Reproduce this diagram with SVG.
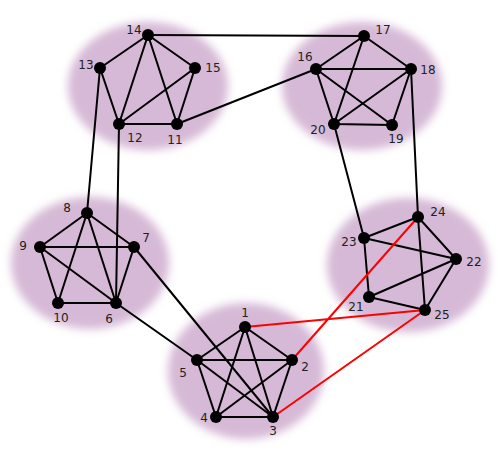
<svg xmlns="http://www.w3.org/2000/svg" width="498" height="457" viewBox="0 0 498 457">
<style>
.bg{fill:#d6b9d6}
.e{stroke:#000;stroke-width:2;fill:none}
.r{stroke:#f00;stroke-width:2;fill:none}
.n{fill:#000}
text{font-family:"DejaVu Sans",sans-serif;font-size:12px;fill:#222;text-anchor:middle}
</style>
<defs>
<filter id="blur" x="-20%" y="-20%" width="140%" height="140%"><feGaussianBlur stdDeviation="4"/></filter>
</defs>
<rect width="498" height="457" fill="#fff"/>
<g id="clusters" filter="url(#blur)">
<ellipse class="bg" cx="148" cy="86" rx="80" ry="64"/>
<ellipse class="bg" cx="362" cy="86" rx="80" ry="64"/>
<ellipse class="bg" cx="90" cy="263" rx="79" ry="66"/>
<ellipse class="bg" cx="408" cy="265" rx="81" ry="67"/>
<ellipse class="bg" cx="246" cy="371" rx="78" ry="68"/>
</g>
<g id="connectors">
<path class="e" d="M148 35L100 68M148 35L195 68M148 35L119 124M148 35L177 124M100 68L119 124M195 68L119 124M195 68L177 124M119 124L177 124"/>
<path class="e" d="M364 36L316 69M364 36L411 69M364 36L334 124M316 69L411 69M316 69L334 124M316 69L392 125M411 69L334 124M411 69L392 125M334 124L392 125"/>
<path class="e" d="M87 213L40 247M87 213L134 247M87 213L58 303M87 213L116 303M40 247L134 247M40 247L58 303M40 247L116 303M134 247L116 303M58 303L116 303"/>
<path class="e" d="M418 217L364 238M418 217L456 259M418 217L425 310M364 238L456 259M364 238L369 297M456 259L369 297M456 259L425 310M369 297L425 310"/>
<path class="e" d="M245 327L197 360M245 327L292 360M245 327L216 417M245 327L273 417M197 360L292 360M197 360L216 417M197 360L273 417M292 360L216 417M292 360L273 417M216 417L273 417"/>
<path class="e" d="M148 35L364 36M177 124L316 69M100 68L87 213M119 124L116 303M334 124L364 238M411 69L418 217M134 247L273 417M116 303L197 360"/>
<path class="r" d="M418 217L292 360M425 310L245 327M425 310L273 417"/>
</g>
<g id="nodes">
<g id="n1"><circle class="n" cx="245" cy="327" r="6"/><text x="245" y="317">1</text></g>
<g id="n2"><circle class="n" cx="292" cy="360" r="6"/><text x="305" y="371">2</text></g>
<g id="n3"><circle class="n" cx="273" cy="417" r="6"/><text x="273" y="435">3</text></g>
<g id="n4"><circle class="n" cx="216" cy="417" r="6"/><text x="204" y="422">4</text></g>
<g id="n5"><circle class="n" cx="197" cy="360" r="6"/><text x="183" y="377">5</text></g>
<g id="n6"><circle class="n" cx="116" cy="303" r="6"/><text x="109" y="323">6</text></g>
<g id="n7"><circle class="n" cx="134" cy="247" r="6"/><text x="146" y="242">7</text></g>
<g id="n8"><circle class="n" cx="87" cy="213" r="6"/><text x="67" y="212">8</text></g>
<g id="n9"><circle class="n" cx="40" cy="247" r="6"/><text x="23" y="250">9</text></g>
<g id="n10"><circle class="n" cx="58" cy="303" r="6"/><text x="61" y="322">10</text></g>
<g id="n11"><circle class="n" cx="177" cy="124" r="6"/><text x="175" y="144">11</text></g>
<g id="n12"><circle class="n" cx="119" cy="124" r="6"/><text x="135" y="142">12</text></g>
<g id="n13"><circle class="n" cx="100" cy="68" r="6"/><text x="86" y="69">13</text></g>
<g id="n14"><circle class="n" cx="148" cy="35" r="6"/><text x="134" y="34">14</text></g>
<g id="n15"><circle class="n" cx="195" cy="68" r="6"/><text x="213" y="72">15</text></g>
<g id="n16"><circle class="n" cx="316" cy="69" r="6"/><text x="305" y="61">16</text></g>
<g id="n17"><circle class="n" cx="364" cy="36" r="6"/><text x="383" y="34">17</text></g>
<g id="n18"><circle class="n" cx="411" cy="69" r="6"/><text x="428" y="74">18</text></g>
<g id="n19"><circle class="n" cx="392" cy="125" r="6"/><text x="396" y="143">19</text></g>
<g id="n20"><circle class="n" cx="334" cy="124" r="6"/><text x="318" y="134">20</text></g>
<g id="n21"><circle class="n" cx="369" cy="297" r="6"/><text x="356" y="311">21</text></g>
<g id="n22"><circle class="n" cx="456" cy="259" r="6"/><text x="474" y="266">22</text></g>
<g id="n23"><circle class="n" cx="364" cy="238" r="6"/><text x="349" y="246">23</text></g>
<g id="n24"><circle class="n" cx="418" cy="217" r="6"/><text x="438" y="216">24</text></g>
<g id="n25"><circle class="n" cx="425" cy="310" r="6"/><text x="442" y="319">25</text></g>
</g>
</svg>
